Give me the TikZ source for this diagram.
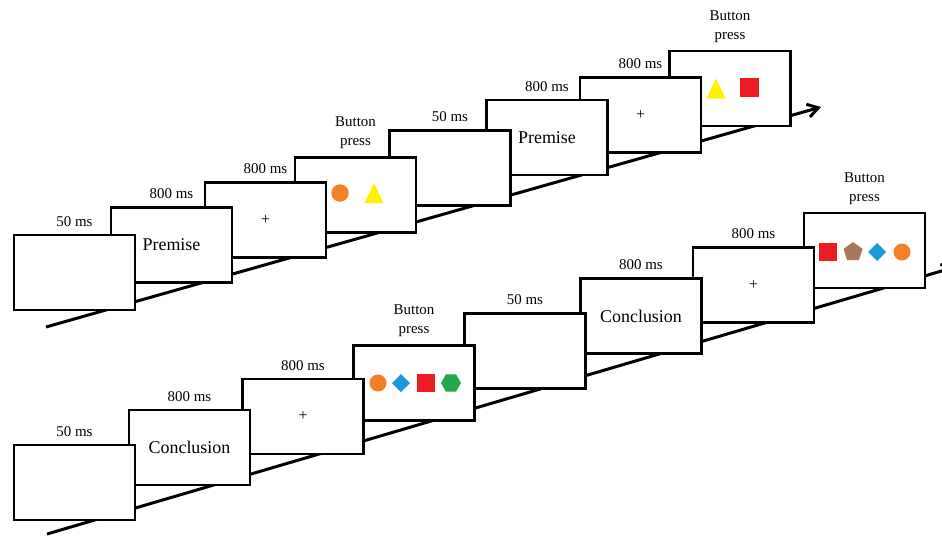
\documentclass[tikz,border=0pt]{standalone}
\usepackage{fontspec}
\setmainfont{Liberation Serif}
\usetikzlibrary{calc,positioning,arrows.meta}
\definecolor{dotorange}{HTML}{F47F24}
\definecolor{triyellow}{HTML}{FFF200}
\definecolor{sqred}{HTML}{ED1C24}
\definecolor{dmdblue}{HTML}{1B9AD8}
\definecolor{hexgreen}{HTML}{22A84B}
\definecolor{pentbrown}{HTML}{A9785A}

\tikzset{
  screen/.style={draw=black, fill=white, line width=1.2pt, inner sep=0pt,
    minimum width=2.42cm, minimum height=1.5cm,
    font=\fontsize{10.2}{12}\selectfont},
  fixation/.style={font=\fontsize{9}{10}\selectfont},
  timing/.style={inner sep=0pt, align=center,
    font=\fontsize{8.5}{10.8}\selectfont},
  timeline/.style={line width=1.7pt, -{Straight Barb[length=6pt,width=7.5pt]}}
}

\begin{document}
\begin{tikzpicture}[x=0.02cm, y=-0.02cm]
  \useasboundingbox (0,0) rectangle (942,535);

  % time axes
  \coordinate (topstart) at (46,327);
  \coordinate (topend) at (821,107);
  \coordinate (botstart) at (47,534);
  \coordinate (botend) at (955,267);
  \draw[timeline] (topstart) -- (topend);
  \draw[timeline] (botstart) -- (botend);

  % premise trials (back to front)
  \node[screen] (t8) at (730,88.5) {};
  \node[screen, fixation] (t7) at (640.5,115) {+};
  \node[screen] (t6) at (547,137.5) {Premise};
  \node[screen] (t5) at (450,168) {};
  \node[screen] (t4) at (355.5,195) {};
  \node[screen, fixation] (t3) at (265.5,220) {+};
  \node[screen] (t2) at (171.5,245) {Premise};
  \node[screen] (t1) at (74.5,272.5) {};

  \node[timing, above=4pt of t1] (t1lab) {50 ms};
  \node[timing, above=4pt of t2] (t2lab) {800 ms};
  \node[timing, above=4pt of t3] (t3lab) {800 ms};
  \node[timing, above=4pt of t4] (t4lab) {Button\\press};
  \node[timing, above=4pt of t5] (t5lab) {50 ms};
  \node[timing, above=4pt of t6] (t6lab) {800 ms};
  \node[timing, above=4pt of t7] (t7lab) {800 ms};
  \node[timing, above=4pt of t8] (t8lab) {Button\\press};

  % conclusion trials (back to front)
  \node[screen] (b8) at (864.5,250.5) {};
  \node[screen, fixation] (b7) at (753.5,285) {+};
  \node[screen] (b6) at (641,316) {Conclusion};
  \node[screen] (b5) at (525,351) {};
  \node[screen] (b4) at (414,383) {};
  \node[screen, fixation] (b3) at (303,416.5) {+};
  \node[screen] (b2) at (189.5,447.5) {Conclusion};
  \node[screen] (b1) at (74.5,482.5) {};

  \node[timing, above=4pt of b1] (b1lab) {50 ms};
  \node[timing, above=4pt of b2] (b2lab) {800 ms};
  \node[timing, above=4pt of b3] (b3lab) {800 ms};
  \node[timing, above=4pt of b4] (b4lab) {Button\\press};
  \node[timing, above=4pt of b5] (b5lab) {50 ms};
  \node[timing, above=4pt of b6] (b6lab) {800 ms};
  \node[timing, above=4pt of b7] (b7lab) {800 ms};
  \node[timing, above=4pt of b8] (b8lab) {Button\\press};

  % stimuli
  \fill[dotorange] ($(t4.center)+(-15.5,-2)$) circle (8.7);
  \fill[triyellow] ($(t4.center)+(18.5,-12)$) -- ++(9.5,20) -- ++(-19,0) -- cycle;

  \fill[triyellow] ($(t8.center)+(-14,-10)$) -- ++(9.5,20) -- ++(-19,0) -- cycle;
  \fill[sqred] ($(t8.center)+(10,-11)$) rectangle ++(19,19);

  \fill[dotorange] ($(b4.center)+(-36,0)$) circle (8.5);
  \fill[dmdblue] ($(b4.center)+(-13,0)$) +(0,-9) -- +(9,0) -- +(0,9) -- +(-9,0) -- cycle;
  \fill[sqred] ($(b4.center)+(3,-9)$) rectangle ++(18,18);
  \fill[hexgreen] ($(b4.center)+(37,0)$) +(0:10) -- +(60:10) -- +(120:10)
    -- +(180:10) -- +(240:10) -- +(300:10) -- cycle;

  \fill[sqred] ($(b8.center)+(-45.5,-8)$) rectangle ++(18,18);
  \fill[pentbrown] ($(b8.center)+(-11.5,1.5)$) +(-90:10) -- +(-18:10) -- +(54:10)
    -- +(126:10) -- +(198:10) -- cycle;
  \fill[dmdblue] ($(b8.center)+(12.5,1.5)$) +(0,-9) -- +(9,0) -- +(0,9) -- +(-9,0) -- cycle;
  \fill[dotorange] ($(b8.center)+(37.5,1.5)$) circle (8.5);
\end{tikzpicture}
\end{document}
